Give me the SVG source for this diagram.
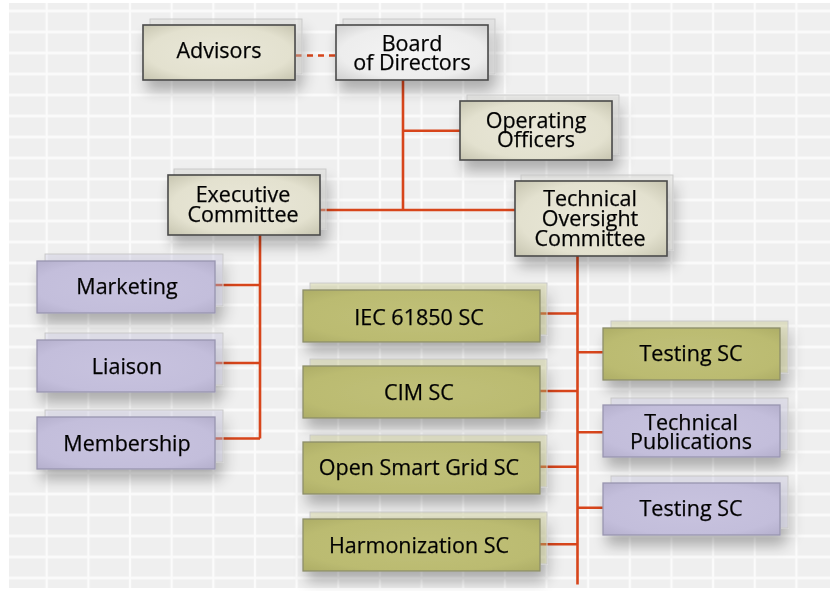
<svg xmlns="http://www.w3.org/2000/svg" width="835" height="591" viewBox="0 0 835 591">
<defs>
<style>
.t{font-family:"Open Sans","Noto Sans","DejaVu Sans",sans-serif;font-size:21.5px;fill:#050505;stroke:#050505;stroke-width:0.25;text-anchor:middle}
.c{stroke:#d7451b;stroke-width:2.6;fill:none}
.bk{stroke:#c9c9c9;stroke-width:1;fill-opacity:0.35}
.beige .fr{fill:url(#gBeige);stroke:#4a4a4a;stroke-width:1.6}
.beige .bk{fill:#cfcfc8}
.board .fr{fill:url(#gBoard);stroke:#4a4a4a;stroke-width:1.6}
.board .bk{fill:#cfcfcf}
.purple .fr{fill:url(#gPurple);stroke:#9995b0;stroke-width:1.3}
.purple .bk{fill:#c4c0dc}
.olive .fr{fill:url(#gOlive);stroke:#8d8e6a;stroke-width:1.3}
.olive .bk{fill:#bdbd76}
.node{filter:url(#sh)}
</style>
<radialGradient id="gBeige" cx="50%" cy="50%" r="72%">
<stop offset="0" stop-color="#e9e7d8"/><stop offset="0.65" stop-color="#e3e1cf"/><stop offset="1" stop-color="#c4c2ad"/>
</radialGradient>
<radialGradient id="gBoard" cx="50%" cy="50%" r="72%">
<stop offset="0" stop-color="#f4f4f4"/><stop offset="0.65" stop-color="#ededed"/><stop offset="1" stop-color="#cdcdcd"/>
</radialGradient>
<radialGradient id="gPurple" cx="50%" cy="50%" r="72%">
<stop offset="0" stop-color="#c8c3df"/><stop offset="0.7" stop-color="#c3bedb"/><stop offset="1" stop-color="#b3aecb"/>
</radialGradient>
<radialGradient id="gOlive" cx="50%" cy="50%" r="72%">
<stop offset="0" stop-color="#c0c078"/><stop offset="0.7" stop-color="#bbbb71"/><stop offset="1" stop-color="#acac66"/>
</radialGradient>
<filter id="sh" x="-20%" y="-30%" width="150%" height="200%">
<feGaussianBlur in="SourceAlpha" stdDeviation="7"/>
<feOffset dx="4" dy="10" result="b"/>
<feComponentTransfer><feFuncA type="linear" slope="0.28"/></feComponentTransfer>
<feMerge><feMergeNode/><feMergeNode in="SourceGraphic"/></feMerge>
</filter>
<pattern id="grid" patternUnits="userSpaceOnUse" x="25.875" y="0.5" width="41.65" height="21">
<rect width="41.65" height="21" fill="#efefef"/>
<path d="M20.825 0V21M0 10.5H41.65" stroke="#fbfbfb" stroke-width="2.4"/>
</pattern>
</defs>
<rect x="9" y="3" width="821" height="585" fill="url(#grid)"/>

<g id="connectors">
<path class="c" d="M296 55.5H336" stroke-dasharray="6,5"/>
<path class="c" d="M403 80V210M403 130.7H460M320 210H515"/>
<path class="c" d="M260 235V438.5M215 285H260M215 363H260M215 438.5H260"/>
<path class="c" d="M577.5 256V584.5M540 313.5H577.5M540 391H577.5M540 466.7H577.5M540 544.3H577.5M577.5 352.3H603M577.5 432.3H603M577.5 507.7H603"/>
</g>

<g id="advisors" class="node beige">
<rect class="bk" x="150" y="19" width="152" height="55"/>
<rect class="fr" x="143" y="25" width="152" height="55"/>
<text class="t" x="219" y="57.5">Advisors</text>
</g>
<g id="board" class="node board">
<rect class="bk" x="343" y="19" width="152" height="55"/>
<rect class="fr" x="336" y="25" width="152" height="55"/>
<text class="t" x="412" y="50.7">Board</text>
<text class="t" x="412" y="70">of Directors</text>
</g>
<g id="operating-officers" class="node beige">
<rect class="bk" x="467" y="95" width="152" height="59"/>
<rect class="fr" x="460" y="101" width="152" height="59"/>
<text class="t" x="536" y="127.7">Operating</text>
<text class="t" x="536" y="146.7">Officers</text>
</g>
<g id="executive-committee" class="node beige">
<rect class="bk" x="174" y="169" width="152" height="60"/>
<rect class="fr" x="168" y="175" width="152" height="60"/>
<text class="t" x="243" y="201.5">Executive</text>
<text class="t" x="243" y="221.5">Committee</text>
</g>
<g id="technical-oversight-committee" class="node beige">
<rect class="bk" x="521" y="175" width="152" height="75"/>
<rect class="fr" x="515" y="181" width="152" height="75"/>
<text class="t" x="590" y="206">Technical</text>
<text class="t" x="590" y="226">Oversight</text>
<text class="t" x="590" y="246">Committee</text>
</g>
<g id="marketing" class="node purple">
<rect class="bk" x="45" y="254" width="178" height="52"/>
<rect class="fr" x="37" y="261" width="178" height="52"/>
<text class="t" x="127" y="294">Marketing</text>
</g>
<g id="liaison" class="node purple">
<rect class="bk" x="45" y="333" width="178" height="52"/>
<rect class="fr" x="37" y="340" width="178" height="52"/>
<text class="t" x="127" y="374">Liaison</text>
</g>
<g id="membership" class="node purple">
<rect class="bk" x="45" y="410" width="178" height="52"/>
<rect class="fr" x="37" y="417" width="178" height="52"/>
<text class="t" x="127" y="451">Membership</text>
</g>
<g id="iec-61850-sc" class="node olive">
<rect class="bk" x="310" y="283" width="237" height="52"/>
<rect class="fr" x="303" y="290" width="237" height="52"/>
<text class="t" x="419" y="325">IEC 61850 SC</text>
</g>
<g id="cim-sc" class="node olive">
<rect class="bk" x="310" y="359" width="237" height="52"/>
<rect class="fr" x="303" y="366" width="237" height="52"/>
<text class="t" x="419" y="400">CIM SC</text>
</g>
<g id="open-smart-grid-sc" class="node olive">
<rect class="bk" x="310" y="435" width="237" height="52"/>
<rect class="fr" x="303" y="442" width="237" height="52"/>
<text class="t" x="419" y="475">Open Smart Grid SC</text>
</g>
<g id="harmonization-sc" class="node olive">
<rect class="bk" x="310" y="512" width="237" height="52"/>
<rect class="fr" x="303" y="519" width="237" height="52"/>
<text class="t" x="419" y="553">Harmonization SC</text>
</g>
<g id="testing-sc-1" class="node olive">
<rect class="bk" x="611" y="321" width="177" height="52"/>
<rect class="fr" x="603" y="328" width="177" height="52"/>
<text class="t" x="691" y="361">Testing SC</text>
</g>
<g id="technical-publications" class="node purple">
<rect class="bk" x="611" y="398" width="177" height="52"/>
<rect class="fr" x="603" y="405" width="177" height="52"/>
<text class="t" x="691" y="430">Technical</text>
<text class="t" x="691" y="449.3">Publications</text>
</g>
<g id="testing-sc-2" class="node purple">
<rect class="bk" x="611" y="476" width="177" height="52"/>
<rect class="fr" x="603" y="483" width="177" height="52"/>
<text class="t" x="691" y="516">Testing SC</text>
</g>
</svg>
